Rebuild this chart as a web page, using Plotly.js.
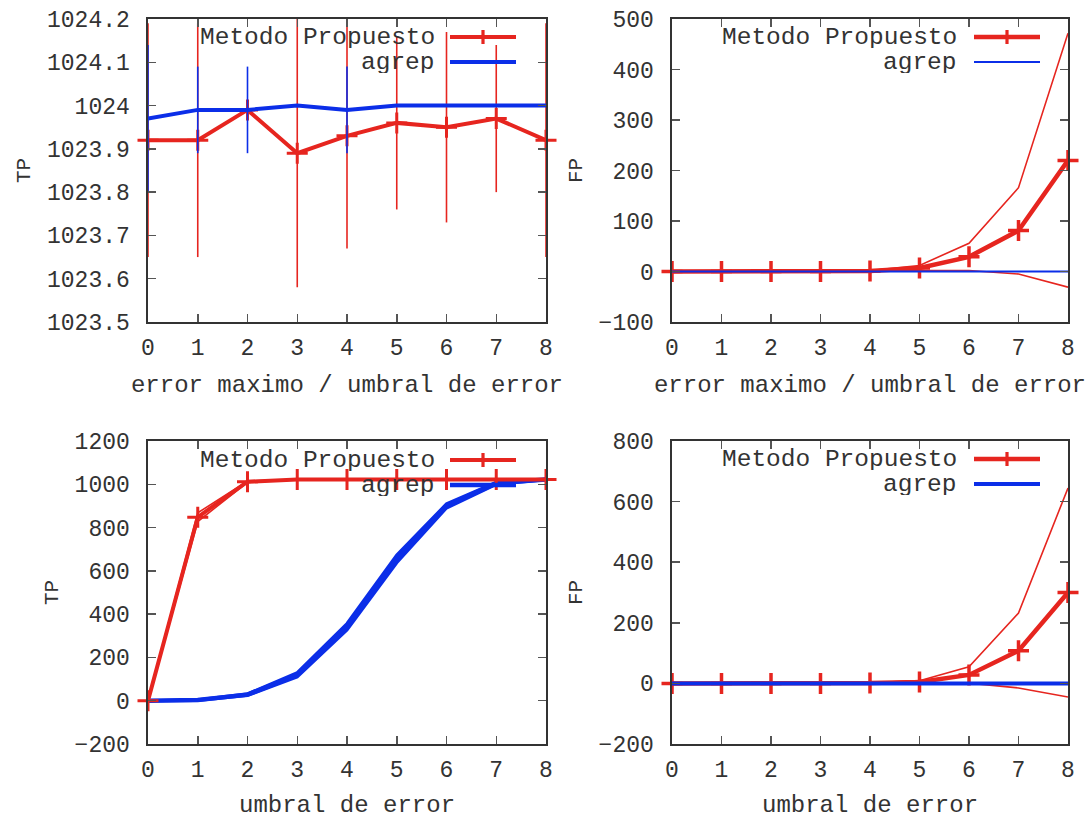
<!DOCTYPE html>
<html>
<head>
<meta charset="utf-8">
<script src="https://cdn.plot.ly/plotly-3.0.1.min.js"></script>
<style>html,body{margin:0;padding:0;background:#fff;}#chart{width:1086px;height:818px;}</style>
</head>
<body>
<div id="chart"></div>
<script>
// ---------- data ----------
const xs = [0, 1, 2, 3, 4, 5, 6, 7, 8];
const xTickVals = [0, 1, 2, 3, 4, 5, 6, 7, 8];
const xTickText = ["0", "1", "2", "3", "4", "5", "6", "7", "8"];

// panel 1: TP vs error maximo / umbral de error
const tp1Metodo    = [1023.92, 1023.92, 1023.99, 1023.89, 1023.93, 1023.96, 1023.95, 1023.97, 1023.92];
const tp1MetodoErr = [0.27, 0.27, 0.00, 0.31, 0.26, 0.20, 0.22, 0.17, 0.27];
const tp1Agrep     = [1023.97, 1023.99, 1023.99, 1024.00, 1023.99, 1024.00, 1024.00, 1024.00, 1024.00];
const tp1AgrepErr  = [0.17, 0.10, 0.10, 0.00, 0.10, 0.00, 0.00, 0.00, 0.00];
const y1TickVals = [1023.5, 1023.6, 1023.7, 1023.8, 1023.9, 1024.0, 1024.1, 1024.2];
const y1TickText = ["1023.5", "1023.6", "1023.7", "1023.8", "1023.9", "1024", "1024.1", "1024.2"];

// panel 2: FP vs error maximo / umbral de error
const fp2Metodo      = [0, 0, 0, 0, 1, 7, 29, 81, 220];
const fp2MetodoUpper = [0, 0, 0, 0, 2, 12, 56, 166, 472];
const fp2MetodoLower = [0, 0, 0, 0, 0, 2, 2, -5, -31];
const fp2Agrep       = [0, 0, 0, 0, 0, 0, 0, 0, 0];
const y2TickVals = [-100, 0, 100, 200, 300, 400, 500];
const y2TickText = ["\u2212100", "0", "100", "200", "300", "400", "500"];

// panel 3: TP vs umbral de error
const tp3Metodo      = [0, 848, 1012, 1022, 1022, 1022, 1022, 1022, 1022];
const tp3MetodoUpper = [0, 868, 1015, 1023, 1023, 1023, 1023, 1023, 1023];
const tp3MetodoLower = [0, 828, 1009, 1021, 1021, 1021, 1021, 1021, 1021];
const tp3Agrep       = [0, 3, 28, 120, 342, 655, 900, 1005, 1022];
const tp3AgrepUpper  = [0, 5, 32, 130, 357, 673, 910, 1010, 1023];
const tp3AgrepLower  = [0, 1, 24, 110, 327, 637, 890, 1000, 1021];
const y3TickVals = [-200, 0, 200, 400, 600, 800, 1000, 1200];
const y3TickText = ["\u2212200", "0", "200", "400", "600", "800", "1000", "1200"];

// panel 4: FP vs umbral de error
const fp4Metodo      = [0, 0, 0, 0, 1, 5, 28, 108, 300];
const fp4MetodoUpper = [0, 0, 0, 0, 2, 9, 55, 232, 645];
const fp4MetodoLower = [0, 0, 0, 0, 0, 1, 1, -15, -45];
const fp4Agrep       = [0, 0, 0, 0, 0, 0, 0, 0, 0];
const y4TickVals = [-200, 0, 200, 400, 600, 800];
const y4TickText = ["\u2212200", "0", "200", "400", "600", "800"];

const seriesNames = ["Metodo Propuesto", "agrep"];
const xTitleTop = "error maximo / umbral de error";
const xTitleBottom = "umbral de error";

// ---------- styling ----------
const RED = "#e6251f";
const BLUE = "#0b2ee8";
const FONT = "Liberation Mono, Courier New, monospace";
const TXT = "#333333";
const W = 1086, H = 818;
const px = v => v / W;
const py = v => 1 - v / H;

const boxes = [
  {x0: 148, x1: 546, y0: 19, y1: 322},
  {x0: 672, x1: 1068, y0: 19, y1: 322},
  {x0: 148, x1: 546, y0: 441, y1: 744},
  {x0: 672, x1: 1068, y0: 441, y1: 744}
];

function crossMarker(size, w, color) {
  return {symbol: "cross-thin", size: size, color: color, line: {color: color, width: w}};
}

const traces = [];
// panel 1
traces.push({x: xs, y: tp1Metodo, xaxis: "x", yaxis: "y", mode: "lines+markers", name: seriesNames[0],
  line: {color: RED, width: 4}, marker: crossMarker(15, 3, RED), cliponaxis: false,
  error_y: {type: "data", array: tp1MetodoErr, symmetric: true, color: RED, thickness: 1.6, width: 0}});
traces.push({x: xs, y: tp1Agrep, xaxis: "x", yaxis: "y", mode: "lines", name: seriesNames[1],
  line: {color: BLUE, width: 4},
  error_y: {type: "data", array: tp1AgrepErr, symmetric: true, color: BLUE, thickness: 1.6, width: 0}});
// panel 2
traces.push({x: xs, y: fp2MetodoUpper, xaxis: "x2", yaxis: "y2", mode: "lines", line: {color: RED, width: 1.6}});
traces.push({x: xs, y: fp2MetodoLower, xaxis: "x2", yaxis: "y2", mode: "lines", line: {color: RED, width: 1.6}});
traces.push({x: xs, y: fp2Metodo, xaxis: "x2", yaxis: "y2", mode: "lines+markers", name: seriesNames[0],
  line: {color: RED, width: 4.5}, marker: crossMarker(15, 3.5, RED), cliponaxis: false});
traces.push({x: xs, y: fp2Agrep, xaxis: "x2", yaxis: "y2", mode: "lines", name: seriesNames[1],
  line: {color: BLUE, width: 2}});
// panel 3
traces.push({x: xs, y: tp3MetodoUpper, xaxis: "x3", yaxis: "y3", mode: "lines", line: {color: RED, width: 1.6}});
traces.push({x: xs, y: tp3MetodoLower, xaxis: "x3", yaxis: "y3", mode: "lines", line: {color: RED, width: 1.6}});
traces.push({x: xs, y: tp3AgrepUpper, xaxis: "x3", yaxis: "y3", mode: "lines", line: {color: BLUE, width: 3}});
traces.push({x: xs, y: tp3AgrepLower, xaxis: "x3", yaxis: "y3", mode: "lines", line: {color: BLUE, width: 3}});
traces.push({x: xs, y: tp3Agrep, xaxis: "x3", yaxis: "y3", mode: "lines", name: seriesNames[1],
  line: {color: BLUE, width: 4.5}});
traces.push({x: xs, y: tp3Metodo, xaxis: "x3", yaxis: "y3", mode: "lines+markers", name: seriesNames[0],
  line: {color: RED, width: 4}, marker: crossMarker(15, 3, RED), cliponaxis: false});
// panel 4
traces.push({x: xs, y: fp4MetodoUpper, xaxis: "x4", yaxis: "y4", mode: "lines", line: {color: RED, width: 1.6}});
traces.push({x: xs, y: fp4MetodoLower, xaxis: "x4", yaxis: "y4", mode: "lines", line: {color: RED, width: 1.6}});
traces.push({x: xs, y: fp4Metodo, xaxis: "x4", yaxis: "y4", mode: "lines+markers", name: seriesNames[0],
  line: {color: RED, width: 4.5}, marker: crossMarker(15, 3.5, RED), cliponaxis: false});
traces.push({x: xs, y: fp4Agrep, xaxis: "x4", yaxis: "y4", mode: "lines", name: seriesNames[1],
  line: {color: BLUE, width: 4}});
traces.forEach(t => { t.showlegend = false; t.hoverinfo = "skip"; });

function xAxis(i, title) {
  const b = boxes[i];
  const ax = {
    domain: [px(b.x0), px(b.x1)], anchor: i === 0 ? "y" : "y" + (i + 1),
    range: [0, 8], tickvals: xTickVals, ticktext: xTickText,
    ticks: "inside", ticklen: 8, tickwidth: 1.5, tickcolor: "#555",
    showline: true, mirror: "ticks", linecolor: "#333", linewidth: 1.6,
    showgrid: false, zeroline: false, ticklabelstandoff: 4,
    tickfont: {family: FONT, size: 23, color: TXT}
  };
  if (title) ax.title = {text: title, font: {family: FONT, size: 24, color: TXT}, standoff: 14};
  return ax;
}
function yAxis(i, vals, text, title) {
  const b = boxes[i];
  return {
    domain: [py(b.y1), py(b.y0)], anchor: i === 0 ? "x" : "x" + (i + 1),
    range: [vals[0], vals[vals.length - 1]], tickvals: vals, ticktext: text,
    ticks: "inside", ticklen: 8, tickwidth: 1.5, tickcolor: "#555",
    showline: true, mirror: "ticks", linecolor: "#333", linewidth: 1.6,
    showgrid: false, zeroline: false, ticklabelstandoff: 12,
    tickfont: {family: FONT, size: 23, color: TXT},
    title: {text: title, font: {family: FONT, size: 21, color: TXT}, standoff: 10}
  };
}

// legend keys (gnuplot style: text on the left, sample on the right)
const annotations = [];
const shapes = [];
const legendSpecs = [
  {textRight: 436, lineX0: 450, lineX1: 516, y: [37, 62], blueW: 4, redW: 4},
  {textRight: 958, lineX0: 974, lineX1: 1040, y: [37, 62], blueW: 2, redW: 4.5},
  {textRight: 436, lineX0: 450, lineX1: 516, y: [460, 485], blueW: 4.5, redW: 4},
  {textRight: 958, lineX0: 974, lineX1: 1040, y: [459, 484], blueW: 4, redW: 4.5}
];
legendSpecs.forEach(s => {
  [0, 1].forEach(k => {
    annotations.push({xref: "paper", yref: "paper", x: px(s.textRight), y: py(s.y[k]),
      xanchor: "right", yanchor: "middle", showarrow: false, text: seriesNames[k],
      height: 22, borderpad: 0,
      font: {family: FONT, size: 24.5, color: TXT}});
    shapes.push({type: "line", xref: "paper", yref: "paper",
      x0: px(s.lineX0), x1: px(s.lineX1), y0: py(s.y[k]), y1: py(s.y[k]),
      line: {color: k === 0 ? RED : BLUE, width: k === 0 ? s.redW : s.blueW}});
  });
  const cx = (s.lineX0 + s.lineX1) / 2;
  shapes.push({type: "line", xref: "paper", yref: "paper",
    x0: px(cx), x1: px(cx), y0: py(s.y[0] - 7), y1: py(s.y[0] + 7),
    line: {color: RED, width: 3.2}});
});
// bottom-row x-axis titles (placed as annotations so they can sit near the page edge)
[2, 3].forEach(i => {
  const b = boxes[i];
  annotations.push({xref: "paper", yref: "paper", x: px((b.x0 + b.x1) / 2), y: py(805),
    xanchor: "center", yanchor: "middle", showarrow: false, text: xTitleBottom,
    height: 24, borderpad: 0,
    font: {family: FONT, size: 24, color: TXT}});
});

const layout = {
  width: W, height: H,
  margin: {l: 0, r: 0, t: 0, b: 0},
  paper_bgcolor: "#fff", plot_bgcolor: "#fff",
  showlegend: false,
  xaxis: xAxis(0, xTitleTop),
  yaxis: yAxis(0, y1TickVals, y1TickText, "TP"),
  xaxis2: xAxis(1, xTitleTop),
  yaxis2: yAxis(1, y2TickVals, y2TickText, "FP"),
  xaxis3: xAxis(2, null),
  yaxis3: yAxis(2, y3TickVals, y3TickText, "TP"),
  xaxis4: xAxis(3, null),
  yaxis4: yAxis(3, y4TickVals, y4TickText, "FP"),
  annotations: annotations,
  shapes: shapes
};

Plotly.newPlot("chart", traces, layout, {displayModeBar: false, staticPlot: true});
</script>
</body>
</html>
